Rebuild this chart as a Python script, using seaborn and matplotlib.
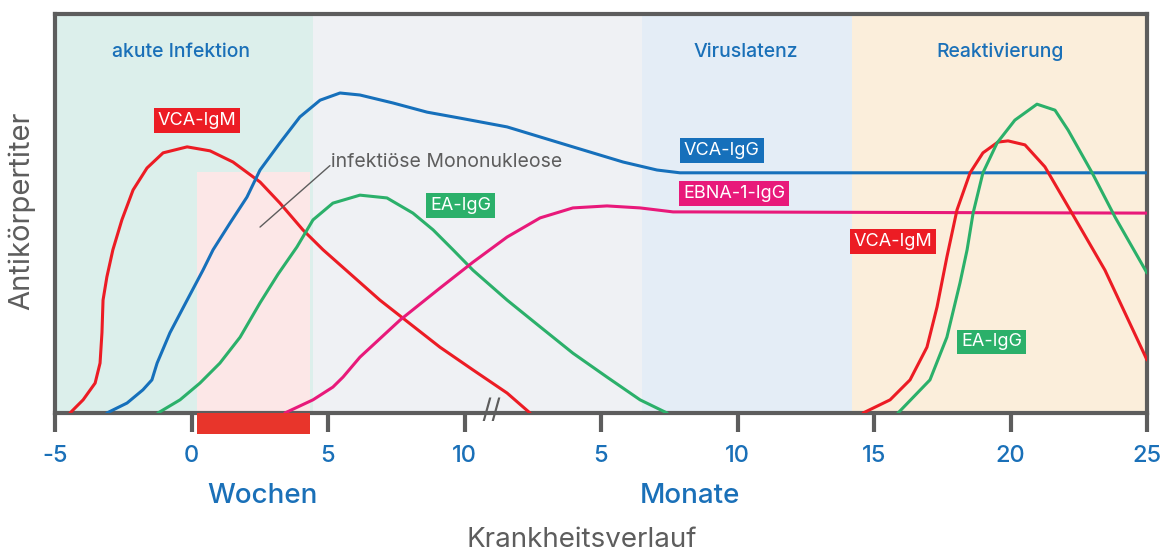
import matplotlib
matplotlib.use("Agg")
import matplotlib.pyplot as plt
import seaborn as sns
import pandas as pd
from matplotlib.patches import Rectangle

# ---------------- data ----------------
tick_pos = [-5, 0, 5, 10, 15, 20, 25, 30, 35]
tick_labels = ["-5", "0", "5", "10", "5", "10", "15", "20", "25"]

vca_igm1_x = [-4.45, -3.97, -3.53, -3.35, -3.28, -3.24, -3.10, -2.88, -2.55, -2.14, -1.63, -1.04, -0.16,
              0.68, 1.52, 2.51, 3.24, 4.08, 4.82, 6.90, 9.10, 10.31, 11.56, 12.40]
vca_igm1_y = [0.0, 3.3, 7.5, 12.5, 20.1, 28.3, 34.1, 40.9, 48.4, 55.9, 61.4, 65.2, 66.7,
              65.7, 62.9, 57.9, 52.6, 45.9, 40.9, 28.3, 16.5, 10.8, 5.0, 0.0]

vca_igg_x = [-3.10, -2.36, -1.78, -1.45, -1.26, -0.79, -0.16, 0.42, 0.79, 1.41, 2.03, 2.51, 3.24, 3.97,
             4.71, 5.44, 6.17, 7.38, 8.63, 9.84, 11.56, 13.97, 15.81, 17.05, 17.89, 35.0]
vca_igg_y = [0.0, 2.5, 5.8, 8.3, 12.5, 20.1, 28.3, 35.8, 40.9, 47.6, 54.1, 60.9, 67.7, 74.2,
             78.4, 80.2, 79.7, 77.7, 75.4, 73.9, 71.7, 66.7, 62.9, 60.9, 60.2, 60.2]

ea_igg1_x = [-1.23, -0.42, 0.31, 1.04, 1.78, 2.51, 3.17, 3.86, 4.45, 5.18, 6.17, 7.16, 8.11, 8.85,
             9.58, 10.31, 11.56, 12.77, 13.97, 15.22, 16.43, 17.42]
ea_igg1_y = [0.0, 3.3, 7.5, 12.5, 19.0, 27.6, 34.8, 41.6, 48.4, 52.6, 54.6, 53.9, 50.1, 45.9,
             40.9, 35.8, 28.3, 21.6, 15.0, 9.0, 3.3, 0.0]

ebna_x = [3.42, 4.45, 5.18, 5.55, 6.17, 7.64, 9.10, 10.31, 11.56, 12.77, 13.97, 15.22, 16.43, 17.64, 18.26, 35.0]
ebna_y = [0.0, 3.3, 6.5, 9.0, 14.0, 23.3, 31.3, 37.8, 44.1, 48.9, 51.4, 51.9, 51.4, 50.4, 50.4, 50.1]

vca_igm2_x = [24.60, 25.59, 26.32, 26.94, 27.31, 27.67, 28.04, 28.52, 28.99, 29.54, 29.91, 30.53,
              31.26, 32.25, 33.46, 35.0]
vca_igm2_y = [0.0, 3.3, 8.3, 16.5, 26.6, 39.1, 50.9, 60.2, 65.2, 67.9, 68.2, 67.2,
              61.7, 50.1, 35.8, 13.3]

ea_igg2_x = [25.88, 27.05, 27.67, 28.15, 28.41, 28.63, 28.99, 29.51, 30.16, 30.97, 31.63, 32.11,
             32.99, 33.83, 35.0]
ea_igg2_y = [0.0, 8.3, 19.0, 32.6, 40.9, 50.1, 60.2, 67.7, 73.4, 77.4, 75.9, 70.9,
             60.2, 49.1, 35.1]

phase_names = ["akute Infektion", "", "Viruslatenz", "Reaktivierung"]
phase_label_x = [-0.38, 0, 20.31, 29.62]
phase_start = [-5, 4.45, 16.5, 24.2]
phase_end = [4.45, 16.5, 24.2, 35]
phase_colors = ["#dcefeb", "#eff1f4", "#e4edf6", "#fbeedb"]

# ---------------- style ----------------
RED = "#ec1c24"
BLUE = "#1670bb"
GREEN = "#2bb06a"
PINK = "#e8197a"
TXTBLUE = "#1a70b8"
GRAY = "#5d5d5d"

sns.set_theme(style="white")
plt.rcParams["font.family"] = ["Inter", "DejaVu Sans"]
W = "medium"

fig = plt.figure(figsize=(11.64, 5.52), dpi=100)
ax = fig.add_axes([55 / 1164, 1 - 413 / 552, (1147 - 55) / 1164, (413 - 14) / 552])

ax.set_xlim(-5, 35)
ax.set_ylim(0, 100)

for name, lx, s, e, c in zip(phase_names, phase_label_x, phase_start, phase_end, phase_colors):
    ax.axvspan(s, e, color=c, zorder=0, lw=0)
    if name:
        ax.text(lx, 90.5, name, ha="center", va="center", color=TXTBLUE, fontsize=14, fontweight=W)

# infectious mononucleosis window
ax.add_patch(Rectangle((0.2, 0), 4.14, 60.4, facecolor="#fce7e7", edgecolor="none", zorder=0.5))
ax.add_patch(Rectangle((0.2, -5.3), 4.14, 5.3, facecolor="#e8352b", edgecolor="none",
                       zorder=5, clip_on=False))

series = [
    (vca_igm1_x, vca_igm1_y, RED),
    (vca_igg_x, vca_igg_y, BLUE),
    (ea_igg1_x, ea_igg1_y, GREEN),
    (ebna_x, ebna_y, PINK),
    (vca_igm2_x, vca_igm2_y, RED),
    (ea_igg2_x, ea_igg2_y, GREEN),
]
for xs, ys, c in series:
    df = pd.DataFrame({"x": xs, "y": ys})
    sns.lineplot(data=df, x="x", y="y", sort=False, color=c, lw=2.2, ax=ax, zorder=3,
                 estimator=None)
for ln in ax.lines:
    ln.set_solid_joinstyle("round")

def box(x, y, txt, c):
    ax.text(x, y, txt, ha="center", va="center", color="white", fontsize=13, zorder=6,
            bbox=dict(boxstyle="square,pad=0.22", fc=c, ec="none"))

box(0.20, 73.2, "VCA-IgM", RED)
box(9.87, 51.9, "EA-IgG", GREEN)
box(19.43, 65.9, "VCA-IgG", BLUE)
box(19.87, 54.9, "EBNA-1-IgG", PINK)
box(25.70, 42.9, "VCA-IgM", RED)
box(29.32, 17.8, "EA-IgG", GREEN)

ax.text(5.1, 63.0, "infektiöse Mononukleose", ha="left", va="center", color=GRAY, fontsize=14, zorder=6)
ax.plot([5.07, 2.51], [62.0, 46.6], color=GRAY, lw=1, zorder=6)

# axes styling
for sp in ax.spines.values():
    sp.set_color(GRAY)
    sp.set_linewidth(3)
    sp.set_visible(True)
ax.set_xticks(tick_pos)
ax.set_xticklabels(tick_labels, fontweight=W)
ax.set_yticks([])
ax.tick_params(axis="x", length=14, width=3, color=GRAY, labelcolor=TXTBLUE,
               labelsize=17, pad=9, bottom=True)
ax.set_xlabel("")
ax.set_ylabel("")

# axis break mark
ax.text(11.0, 0.5, "//", ha="center", va="center", color=GRAY, fontsize=20,
        zorder=7, clip_on=False)

fig.text(262 / 1164, 1 - 496 / 552, "Wochen", ha="center", va="center", color=TXTBLUE, fontsize=20, fontweight=W)
fig.text(690 / 1164, 1 - 496 / 552, "Monate", ha="center", va="center", color=TXTBLUE, fontsize=20, fontweight=W)
fig.text(582 / 1164, 1 - 540 / 552, "Krankheitsverlauf", ha="center", va="center", color=GRAY, fontsize=20)
fig.text(22 / 1164, 1 - 211 / 552, "Antikörpertiter", ha="center", va="center", color=GRAY,
         fontsize=21, rotation=90)

fig.savefig("out.png", dpi=100, facecolor="white")
